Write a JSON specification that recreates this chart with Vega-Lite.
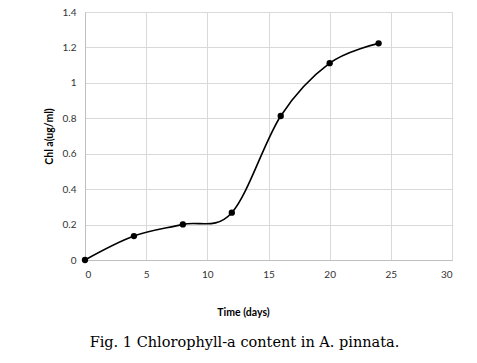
{
  "$schema": "https://vega.github.io/schema/vega-lite/v6.json",
  "autosize": "none",
  "width": 367,
  "height": 248,
  "padding": {"left": 85, "top": 12, "right": 25, "bottom": 103},
  "background": "white",
  "config": {
    "view": {"stroke": null},
    "axis": {"labelFont": "Lato", "titleFont": "Lato", "labelColor": "#333333", "titleColor": "#000000"}
  },
  "title": {
    "text": "Fig. 1 Chlorophyll-a content in A. pinnata.",
    "orient": "bottom",
    "anchor": "middle",
    "font": "DejaVu Serif",
    "fontSize": 14.5,
    "fontWeight": "normal",
    "color": "#000000",
    "dx": -24,
    "offset": 18
  },
  "data": {
    "values": [
      {"day": 0, "chl": 0.0, "err": 0.0},
      {"day": 4, "chl": 0.135, "err": 0.008},
      {"day": 8, "chl": 0.201, "err": 0.012},
      {"day": 12, "chl": 0.267, "err": 0.006},
      {"day": 16, "chl": 0.813, "err": 0.006},
      {"day": 20, "chl": 1.111, "err": 0.006},
      {"day": 24, "chl": 1.223, "err": 0.006}
    ]
  },
  "encoding": {
    "x": {
      "field": "day", "type": "quantitative",
      "scale": {"domain": [0, 30], "nice": false},
      "axis": {
        "values": [0, 5, 10, 15, 20, 25, 30],
        "title": "Time (days)",
        "titleFontWeight": "bold",
        "titleFontSize": 10.5,
        "titlePadding": 28,
        "titleX": 158,
        "labelFontSize": 10,
        "labelPadding": 9,
        "ticks": false,
        "domainColor": "#bfbfbf",
        "gridColor": "#d9d9d9",
        "grid": true
      }
    },
    "y": {
      "field": "chl", "type": "quantitative",
      "scale": {"domain": [0, 1.4], "nice": false},
      "axis": {
        "values": [0, 0.2, 0.4, 0.6, 0.8, 1, 1.2, 1.4],
        "format": "~g",
        "title": "Chl a(ug/ml)",
        "titleFontWeight": "bold",
        "titleFontSize": 10.5,
        "titlePadding": 8,
        "labelFontSize": 10,
        "labelPadding": 9,
        "ticks": false,
        "domainColor": "#bfbfbf",
        "gridColor": "#d9d9d9",
        "grid": true
      }
    }
  },
  "layer": [
    {
      "mark": {"type": "line", "interpolate": "cardinal", "tension": 0, "color": "black", "strokeWidth": 1.6}
    },
    {
      "mark": {"type": "errorbar", "color": "black", "ticks": {"size": 4}},
      "encoding": {
        "y": {"field": "chl", "type": "quantitative"},
        "yError": {"field": "err"}
      }
    },
    {
      "mark": {"type": "point", "filled": true, "color": "black", "size": 40, "opacity": 1}
    }
  ]
}
